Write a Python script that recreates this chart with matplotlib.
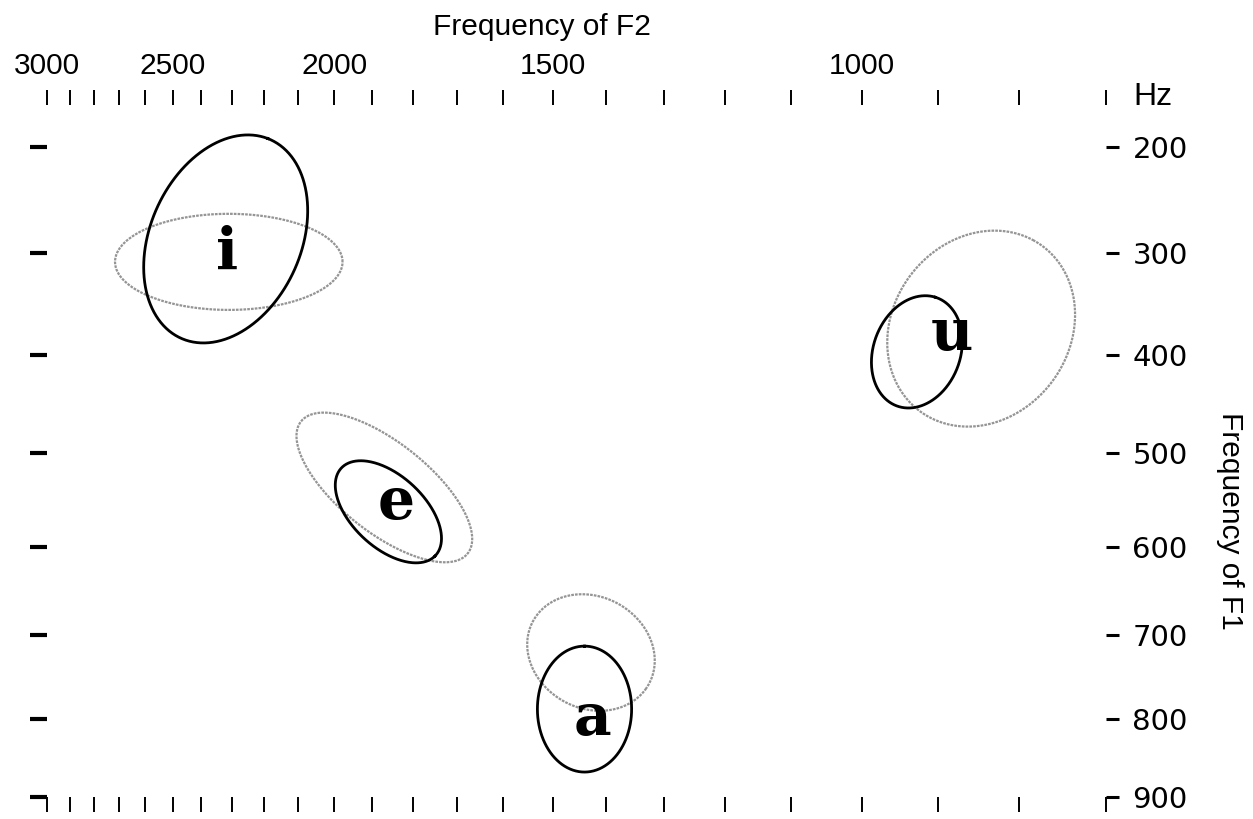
import numpy as np
import matplotlib.pyplot as plt

# vowel labels (F2, F1 in Hz)
vowels = ['i', 'e', 'a', 'u']
label_f2 = [2315, 1840, 1425, 882]
label_f1 = [300, 553, 800, 379]

# black ellipses: centre in Hz, semi-axes in Bark, tilt in degrees
blk_f2 = [2320, 1860, 1440, 927]
blk_f1 = [287, 562, 788, 397]
blk_a = [0.98, 0.57, 0.57, 0.52]
blk_b = [0.66, 0.32, 0.41, 0.38]
blk_ang = [68, -45, 90, 72]

# grey ellipses
gry_f2 = [2310, 1870, 1428, 846]
gry_f1 = [309, 536, 720, 374]
gry_a = [0.99, 0.94, 0.58, 0.92]
gry_b = [0.435, 0.40, 0.50, 0.78]
gry_ang = [0, -40, -35, 60]

f2_ticks = list(range(3000, 600, -100))
f2_labelled = [3000, 2500, 2000, 1500, 1000]
f1_ticks = [200, 300, 400, 500, 600, 700, 800, 900]


def bark(f):
    f = np.asarray(f, dtype=float)
    return 13 * np.arctan(0.00076 * f) + 3.5 * np.arctan((f / 7500.0) ** 2)


_hz_grid = np.linspace(0, 12000, 48001)
_bark_grid = bark(_hz_grid)


def hz(z):
    return np.interp(z, _bark_grid, _hz_grid)


def ellipse(f2c, f1c, a, b, ang):
    t = np.linspace(0, 2 * np.pi, 500)
    th = np.radians(ang)
    u = -bark(f2c) + a * np.cos(t) * np.cos(th) - b * np.sin(t) * np.sin(th)
    w = -bark(f1c) + a * np.cos(t) * np.sin(th) + b * np.sin(t) * np.cos(th)
    return hz(-u), hz(-w)


plt.rcParams['font.family'] = ['Liberation Sans', 'DejaVu Sans']

fig = plt.figure(figsize=(12.53, 8.19), dpi=100)
ax = fig.add_axes([47 / 1253, 22 / 819, 1059 / 1253, 692 / 819])
ax.set_xscale('function', functions=(bark, hz))
ax.set_yscale('function', functions=(bark, hz))
ax.set_xlim(3000, 700)
ax.set_ylim(900, 161)

for i in range(len(vowels)):
    x, y = ellipse(gry_f2[i], gry_f1[i], gry_a[i], gry_b[i], gry_ang[i])
    ax.plot(x, y, color='#959595', lw=1.6, ls=(0, (1.2, 0.5)))
for i in range(len(vowels)):
    x, y = ellipse(blk_f2[i], blk_f1[i], blk_a[i], blk_b[i], blk_ang[i])
    ax.plot(x, y, color='black', lw=2.0)

for v, x, y in zip(vowels, label_f2, label_f1):
    ax.text(x, y, v, ha='center', va='center', fontsize=42, fontweight='bold',
            family='DejaVu Serif')

for s in ax.spines.values():
    s.set_visible(False)

ax.set_xticks(f2_ticks)
ax.set_xticklabels([str(f) if f in f2_labelled else '' for f in f2_ticks])
ax.xaxis.set_minor_locator(plt.NullLocator())
ax.tick_params(axis='x', which='both', top=True, bottom=True, labeltop=True,
               labelbottom=False, direction='out', length=11, width=1.4,
               pad=7, labelsize=21.5)

ax.set_yticks(f1_ticks)
ax.set_yticklabels([str(f) for f in f1_ticks], family='DejaVu Sans')
ax.yaxis.set_minor_locator(plt.NullLocator())
ax.tick_params(axis='y', which='both', left=True, right=True, labelleft=False,
               labelright=True, direction='out', length=9, width=2.2,
               pad=10, labelsize=21)
for t in ax.yaxis.get_major_ticks():
    t.tick1line.set_markersize(12)
    t.tick1line.set_markeredgewidth(3)

fig.text(1133 / 1253, 1 - 97 / 819, 'Hz', ha='left', va='center', fontsize=23)
fig.text(542 / 1253, 1 - 27 / 819, 'Frequency of F2', ha='center', va='center',
         fontsize=21.5)
fig.text(1230 / 1253, 1 - 521 / 819, 'Frequency of F1', ha='center', va='center',
         fontsize=21.5, rotation=-90)

fig.savefig('out.png', dpi=100)
